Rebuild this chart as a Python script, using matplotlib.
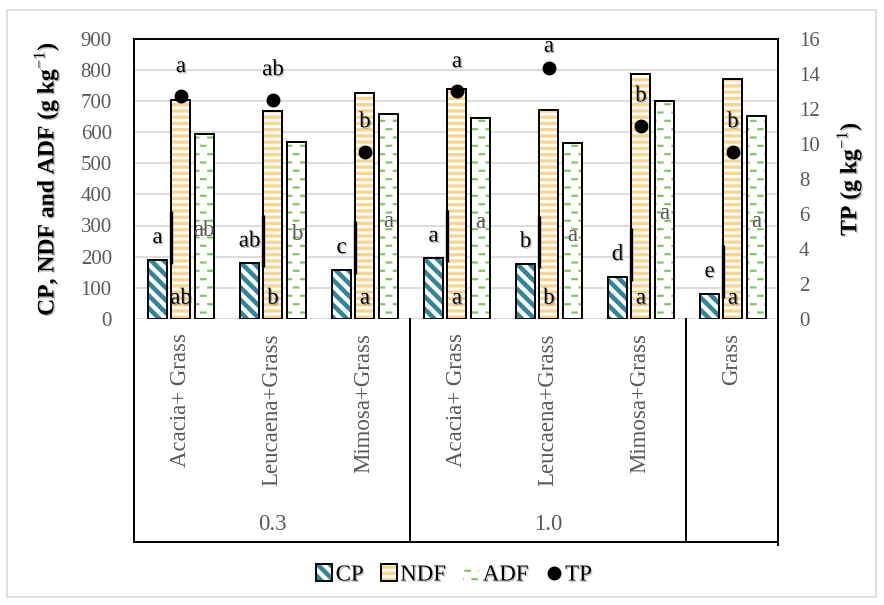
import numpy as np
import matplotlib
matplotlib.use("Agg")
import matplotlib.pyplot as plt
import matplotlib.hatch as mhatch
import matplotlib.patheffects as pe
from matplotlib.path import Path
from matplotlib.patches import Patch, Rectangle
from matplotlib.lines import Line2D
import matplotlib.transforms as mtrans

# ---------------- data ----------------
categories = ["Acacia+ Grass", "Leucaena+Grass", "Mimosa+Grass",
              "Acacia+ Grass", "Leucaena+Grass", "Mimosa+Grass", "Grass"]
groups = ["0.3", "1.0"]
group_centers = [1, 4]
group_separators = [2.5, 5.5]

cp = [190, 179, 158, 195, 177, 136, 81]
ndf = [703, 666, 725, 739, 669, 787, 771]
adf = [593, 569, 657, 644, 564, 698, 652]
tp = [12.7, 12.5, 9.55, 13.0, 14.3, 11.0, 9.55]

cp_letters = ["a", "ab", "c", "a", "b", "d", "e"]
ndf_top_letters = ["a", "ab", "b", "a", "a", "b", "b"]
ndf_top_letter_y = [810, 800, 633, 826, 875, 716, 633]
ndf_bottom_letters = ["ab", "b", "a", "a", "b", "a", "a"]
adf_letters = ["ab", "b", "a", "a", "a", "a", "a"]
adf_letter_y = [285, 272, 314, 310, 268, 339, 314]

left_ticks = list(range(0, 901, 100))
right_ticks = list(range(0, 17, 2))

# ---------------- custom hatch patterns (filled polygons) ----------------
class _PolyHatch(mhatch.HatchPatternBase):
    char = None

    def __init__(self, hatch, density):
        self.polys = self.make_polys() if (hatch and self.char in hatch) else []
        self.num_vertices = 5 * len(self.polys)

    def make_polys(self):
        return []

    def set_vertices_and_codes(self, vertices, codes):
        for i, poly in enumerate(self.polys):
            vertices[5 * i:5 * i + 4] = poly
            vertices[5 * i + 4] = poly[0]
            codes[5 * i] = Path.MOVETO
            codes[5 * i + 1:5 * i + 4] = Path.LINETO
            codes[5 * i + 4] = Path.CLOSEPOLY


class DiagHatch(_PolyHatch):
    char = "\\"

    def make_polys(self):
        n, w = 8, 0.5 / 8
        polys = []
        for k in range(-1, 2 * n + 2):
            c = k / n
            polys.append([(0, c), (1, c - 1), (1, c - 1 + w), (0, c + w)])
        return polys


class HorizHatch(_PolyHatch):
    char = "-"

    def make_polys(self):
        n, h = 16, 0.5 / 16
        return [[(0, k / n), (1, k / n), (1, k / n + h), (0, k / n + h)]
                for k in range(n)]


class DashHatch(_PolyHatch):
    char = "."

    def make_polys(self):
        rows, per_row, L, t = 12, 7, 0.065, 0.02
        polys = []
        for r in range(rows):
            y = (r + 0.5) / rows
            off = (r % 2) * 0.5 / per_row
            for k in range(per_row):
                x0 = k / per_row + off
                polys.append([(x0, y - t / 2), (x0 + L, y - t / 2),
                              (x0 + L, y + t / 2), (x0, y + t / 2)])
        return polys


mhatch._hatch_types = [DiagHatch, HorizHatch, DashHatch]

# ---------------- style ----------------
plt.rcParams["font.family"] = ["Liberation Serif", "DejaVu Serif"]
plt.rcParams["mathtext.fontset"] = "custom"
plt.rcParams["mathtext.rm"] = "Liberation Serif"
plt.rcParams["mathtext.bf"] = "Liberation Serif:bold"
plt.rcParams["hatch.linewidth"] = 0.1

TEAL = "#31859b"
YELLOW = "#f9d48a"
GREEN = "#7fc45a"
GREY_TXT = "#595959"
GRID = "#d9d9d9"

shadow = [pe.withSimplePatchShadow(offset=(1, -1), shadow_rgbFace="black", alpha=0.25)]

fig = plt.figure(figsize=(8.84, 6.05), dpi=100)
ax = fig.add_axes([134 / 884, 1 - 319 / 605, (778 - 134) / 884, (319 - 38.5) / 605])
ax2 = ax.twinx()

x = np.arange(len(categories))
w = 0.207
step = 0.254
shift = 0.01
offs = [-step + shift, shift, step + shift]

# bars: hatch fill, then black outline
series = [(cp, TEAL, "\\"), (ndf, YELLOW, "-"), (adf, GREEN, ".")]
for (vals, col, hatch), off in zip(series, offs):
    ax.bar(x + off, vals, width=w, color="white", edgecolor=col, linewidth=0,
           hatch=hatch, zorder=2)
    ax.bar(x + off, vals, width=w, fill=False, edgecolor="black", linewidth=1.4,
           zorder=3)

# thick black segments on NDF bar left edges (artefact of CP label boxes)
ax.vlines(x + offs[1] - w / 2, np.array(cp) - 13, np.array(cp) + 155,
          color="black", linewidth=2.4, zorder=4)

# letters
LFS = 16.5
for i in range(len(categories)):
    ax.annotate(cp_letters[i], (x[i] + offs[0], cp[i]), xytext=(0, 16),
                textcoords="offset points", ha="center", va="center",
                fontsize=LFS, color="black", zorder=6, path_effects=shadow)
    ax.text(x[i] + offs[1], ndf_top_letter_y[i], ndf_top_letters[i], ha="center",
            va="center", fontsize=LFS, color="black", zorder=6, path_effects=shadow)
    ax.annotate(ndf_bottom_letters[i], (x[i] + offs[1], 0), xytext=(0, 15),
                textcoords="offset points", ha="center", va="center",
                fontsize=LFS, color="black", zorder=6, path_effects=shadow)
    ax.text(x[i] + offs[2], adf_letter_y[i], adf_letters[i], ha="center",
            va="center", fontsize=LFS, color=GREY_TXT, zorder=6)

# TP points
ax2.plot(x + offs[1], tp, linestyle="none", marker="o", color="black",
         markersize=9, zorder=5)

# axes setup
ax.set_xlim(-0.5, 6.5)
ax.set_ylim(0, 900)
ax.set_yticks(left_ticks)
ax.set_xticks([])
ax2.set_ylim(0, 16)
ax2.set_yticks(right_ticks)
ax.yaxis.grid(True, color=GRID, linewidth=1.3)
ax.set_axisbelow(True)
for a in (ax, ax2):
    for s in a.spines.values():
        s.set_visible(False)
ax.tick_params(axis="y", length=0, pad=16, labelsize=15, labelcolor=GREY_TXT)
ax2.tick_params(axis="y", length=0, pad=15, labelsize=15, labelcolor=GREY_TXT)

ax.set_ylabel(r"CP, NDF and ADF (g kg$^{\mathrm{-1}}$)", fontsize=17,
              fontweight="bold", labelpad=14, path_effects=shadow)
ax2.set_ylabel(r"TP (g kg$^{\mathrm{-1}}$)", fontsize=17, fontweight="bold",
               labelpad=10, path_effects=shadow)

# frame and category box
trans = mtrans.blended_transform_factory(ax.transData, ax.transAxes)
box_bottom = -0.795
frame_kw = dict(color="black", linewidth=1.4, transform=trans, clip_on=False, zorder=7)
ax.plot([-0.5, -0.5], [box_bottom, 1], **frame_kw)
ax.plot([6.5, 6.5], [box_bottom - 0.01, 1], **frame_kw)
ax.plot([-0.5, 6.5], [1, 1], **frame_kw)
ax.plot([-0.5, 6.5], [box_bottom, box_bottom], **frame_kw)
for sx in group_separators:
    ax.plot([sx, sx], [box_bottom, 0], **frame_kw)

for i, lab in enumerate(categories):
    ax.text(x[i], -0.05, lab, rotation=90, ha="center", va="top", fontsize=16.5,
            color=GREY_TXT, transform=trans)
for gc, g in zip(group_centers, groups):
    ax.text(gc, -0.731, g, ha="center", va="center", fontsize=16.5,
            color=GREY_TXT, transform=trans)

# legend
h_cp = (Patch(facecolor="white", edgecolor=TEAL, linewidth=0, hatch="\\"),
        Patch(fill=False, edgecolor="black", linewidth=1.4))
h_ndf = (Patch(facecolor="white", edgecolor=YELLOW, linewidth=0, hatch="-"),
         Patch(fill=False, edgecolor="black", linewidth=1.4))
h_adf = Patch(facecolor="white", edgecolor=GREEN, linewidth=0, hatch=".")
h_tp = Line2D([], [], marker="o", color="black", linestyle="none", markersize=9)
leg = fig.legend([h_cp, h_ndf, h_adf, h_tp], ["CP", "NDF", "ADF", "TP"],
                 loc="center", bbox_to_anchor=(454 / 884, 1 - 575 / 605), ncol=4,
                 frameon=False, handlelength=0.7, handleheight=0.7,
                 handletextpad=0.15, columnspacing=0.75, fontsize=16.5)
for t in leg.get_texts():
    t.set_path_effects(shadow)

# outer chart border
fig.add_artist(Rectangle((7 / 884, 1 - 597 / 605), (876 - 7) / 884, (597 - 10) / 605,
                         transform=fig.transFigure, fill=False, edgecolor=GRID,
                         linewidth=1.2))

fig.savefig("out.png", dpi=100)
